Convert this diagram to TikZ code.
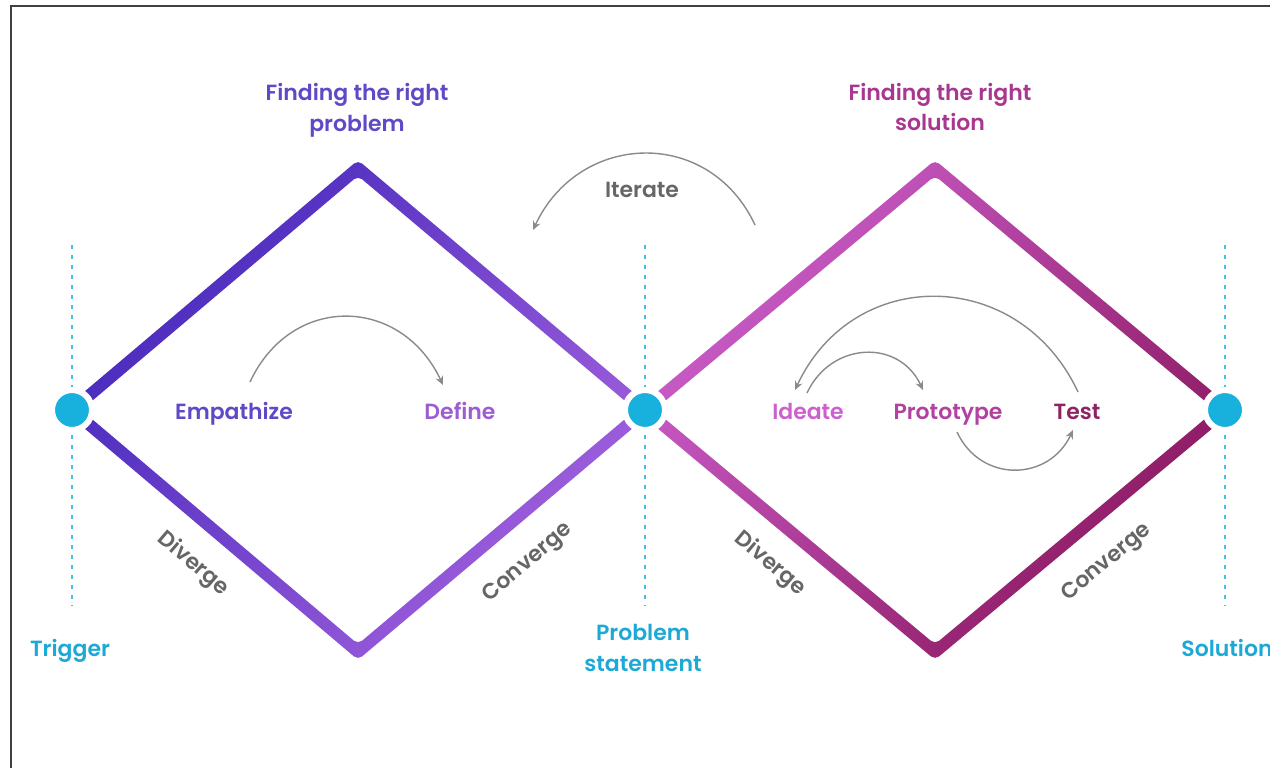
\documentclass[tikz,border=0pt]{standalone}
\usepackage{fontspec}
\setmainfont{Poppins}[BoldFont={Poppins SemiBold}]
\usetikzlibrary{arrows.meta}
\definecolor{probdark}{HTML}{4428BC}
\definecolor{problight}{HTML}{A462DE}
\definecolor{sollight}{HTML}{CC60CE}
\definecolor{soldark}{HTML}{8A165C}
\definecolor{dotcyan}{HTML}{18B0DC}
\definecolor{dashcyan}{HTML}{45BFE2}
\definecolor{txtcyan}{HTML}{1DA9D6}
\definecolor{txtgray}{HTML}{666666}
\definecolor{arcgray}{HTML}{8A8A8A}

\begin{document}
\begin{tikzpicture}[x=0.02cm,y=0.02cm,
  lbl/.style={font=\bfseries\fontsize{12.5}{17.6}\selectfont,inner sep=0pt,align=center},
  step lbl/.style={lbl,anchor=base},
  dot/.style={circle,fill=dotcyan,draw=white,line width=0.12cm,minimum size=0.8cm,inner sep=0pt},
  guide/.style={draw=dashcyan,line width=1.1pt,dash pattern=on 0.08cm off 0.12cm},
  flow/.style={draw=arcgray,line width=0.8pt,-{Stealth[length=5pt,width=4.5pt]}}]
\useasboundingbox (0,0) rectangle (1270,768);
\draw[line width=0.6pt,black!75] (11,0) -- (11,762) -- (1270,762);

% the two diamonds
\shade[even odd rule,rounded corners=3,top color=probdark,bottom color=problight,shading angle=50]
  (62.7,358) -- (358,607.85) -- (654.3,358) -- (358,108.15) -- cycle
  (81.3,358) -- (358,592.15) -- (635.7,358) -- (358,123.85) -- cycle;
\shade[even odd rule,rounded corners=3,top color=sollight,bottom color=soldark,shading angle=50]
  (635.6,358) -- (935,607.8) -- (1234.4,358) -- (935,108.2) -- cycle
  (654.4,358) -- (935,592.2) -- (1215.6,358) -- (935,123.8) -- cycle;

\coordinate (trigpt) at (72,358);
\coordinate (probpt) at (645,358);
\coordinate (solpt) at (1225,358);
\draw[guide] ([shift={(0,165)}]trigpt) -- ([shift={(0,-195)}]trigpt);
\draw[guide] ([shift={(0,165)}]probpt) -- ([shift={(0,-195)}]probpt);
\draw[guide] ([shift={(0,165)}]solpt) -- ([shift={(0,-195)}]solpt);
\node[dot] (trig) at (trigpt) {};
\node[dot] (prob) at (probpt) {};
\node[dot] (sol) at (solpt) {};

\node[lbl,text=probdark!85!white] (findp) at (357,658) {Finding the right\\problem};
\node[lbl,text=sollight!45!soldark] (finds) at (940,661) {Finding the right\\solution};
\node[step lbl,text=txtgray] (iter) at (642,570) {Iterate};

\node[step lbl,text=probdark!85!white] (emp) at (234,349) {Empathize};
\node[step lbl,text=problight!95!black] (def) at (460,349) {Define};
\node[step lbl,text=sollight] (ide) at (808,349) {Ideate};
\node[step lbl,text=sollight!60!soldark] (pro) at (948,349) {Prototype};
\node[step lbl,text=soldark!95!white] (tst) at (1077,349) {Test};

\node[lbl,text=txtgray,rotate=-40.5] (div1) at (193,204) {Diverge};
\node[lbl,text=txtgray,rotate=40.5] (con1) at (528,205) {Converge};
\node[lbl,text=txtgray,rotate=-40] (div2) at (770,204) {Diverge};
\node[lbl,text=txtgray,rotate=40] (con2) at (1107,205) {Converge};

\node[step lbl,text=txtcyan] (trigger) at (70,112) {Trigger};
\node[lbl,text=txtcyan] (pstate) at (643,120) {Problem\\statement};
\node[step lbl,text=txtcyan] (solution) at (1227,112) {Solution};

% arcs
\draw[flow] ([shift={(16,37)}]emp.base) to[out=65,in=115,looseness=1.3] ([shift={(-17,34)}]def.base);
\coordinate (itstart) at (755,543);
\coordinate (itend) at (533,538);
\draw[flow] (itstart) to[out=115,in=65,looseness=1.25] (itend);
\draw[flow] ([shift={(-1,26)}]ide.base) to[out=65,in=115,looseness=1.25] ([shift={(-25,29)}]pro.base);
\draw[flow] ([shift={(1,27)}]tst.base) to[out=115,in=65,looseness=1.25] ([shift={(-13,29)}]ide.base);
\draw[flow] ([shift={(9,-13)}]pro.base) to[out=-65,in=-115,looseness=1.25] ([shift={(-4,-11)}]tst.base);
\end{tikzpicture}
\end{document}
